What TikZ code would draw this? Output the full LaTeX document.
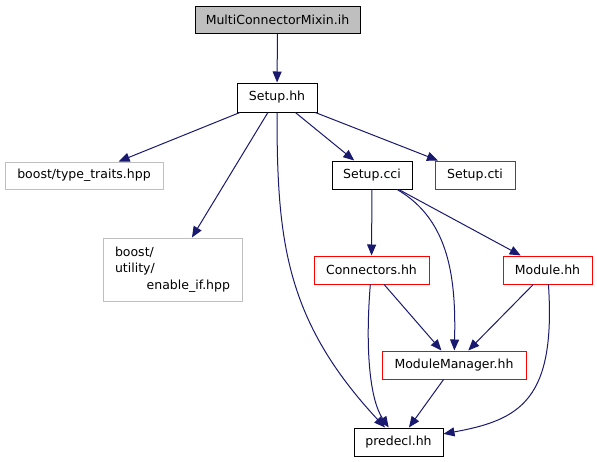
\documentclass[tikz,border=0pt]{standalone}
\usepackage{fontspec}
\setmainfont{DejaVu Sans}
\usepackage{tikz}
\usetikzlibrary{arrows.meta}
\definecolor{edgeblue}{RGB}{25,25,112}
\definecolor{boxgray}{RGB}{191,191,191}
\definecolor{boxred}{RGB}{255,0,0}

\begin{document}
\begin{tikzpicture}[x=1pt,y=-1pt,
  box/.style={draw=black,line width=1pt,inner sep=0pt,minimum height=28pt,font=\fontsize{12.5}{16.8}\selectfont},
  redbox/.style={box,draw=boxred},
  extbox/.style={box,draw=boxgray},
  dep/.style={draw=edgeblue,line width=1pt,-{Triangle[length=11pt,width=9pt]}}]
\useasboundingbox (0,0) rectangle (597,461);
\node[box,fill=boxgray,minimum width=165pt,minimum height=27pt] (mixin) at (277.5,20) {MultiConnectorMixin.ih};
\node[box,minimum width=80pt,minimum height=29pt] (setuphh) at (277,97.5) {Setup.hh};
\node[extbox,minimum width=158pt,minimum height=27pt] (traits) at (84,175.5) {boost/type\_traits.hpp};
\node[extbox,minimum width=139pt,minimum height=63pt] (enableif) at (172.5,269.5) {\begin{tabular}{@{}l@{}}boost/\\utility/\\\makebox[115pt][r]{enable\_if.hpp}\end{tabular}};
\node[box,minimum width=80pt] (setupcci) at (372,175) {Setup.cci};
\node[redbox,minimum width=115pt] (connectors) at (371.5,270) {Connectors.hh};
\node[redbox,minimum width=80pt] (setupcti) at (475,175) {Setup.cti};
\node[redbox,minimum width=89pt] (module) at (547.5,270) {Module.hh};
\node[redbox,minimum width=144pt] (manager) at (454,365) {ModuleManager.hh};
\node[box,minimum width=89pt] (predecl) at (398.5,442) {predecl.hh};
\draw[dep] (mixin) to (setuphh);
\draw[dep] (setuphh) to (traits);
\draw[dep] (setuphh) to (enableif);
\draw[dep] (setuphh) to (setupcci);
\draw[dep] (setuphh) to (setupcti);
\draw[dep] (setuphh) .. controls (277,240) and (285,320) .. (predecl);
\draw[dep] (setupcci) to (connectors);
\draw[dep] (setupcci) to (module);
\draw[dep] (setupcci) .. controls (450,220) and (456,280) .. (manager);
\draw[dep] (connectors) to (manager);
\draw[dep] (connectors) .. controls (365,350) and (370,400) .. (predecl);
\draw[dep] (module) to (manager);
\draw[dep] (module) .. controls (556,400) and (520,420) .. (predecl);
\draw[dep] (manager) to (predecl);
\end{tikzpicture}
\end{document}
